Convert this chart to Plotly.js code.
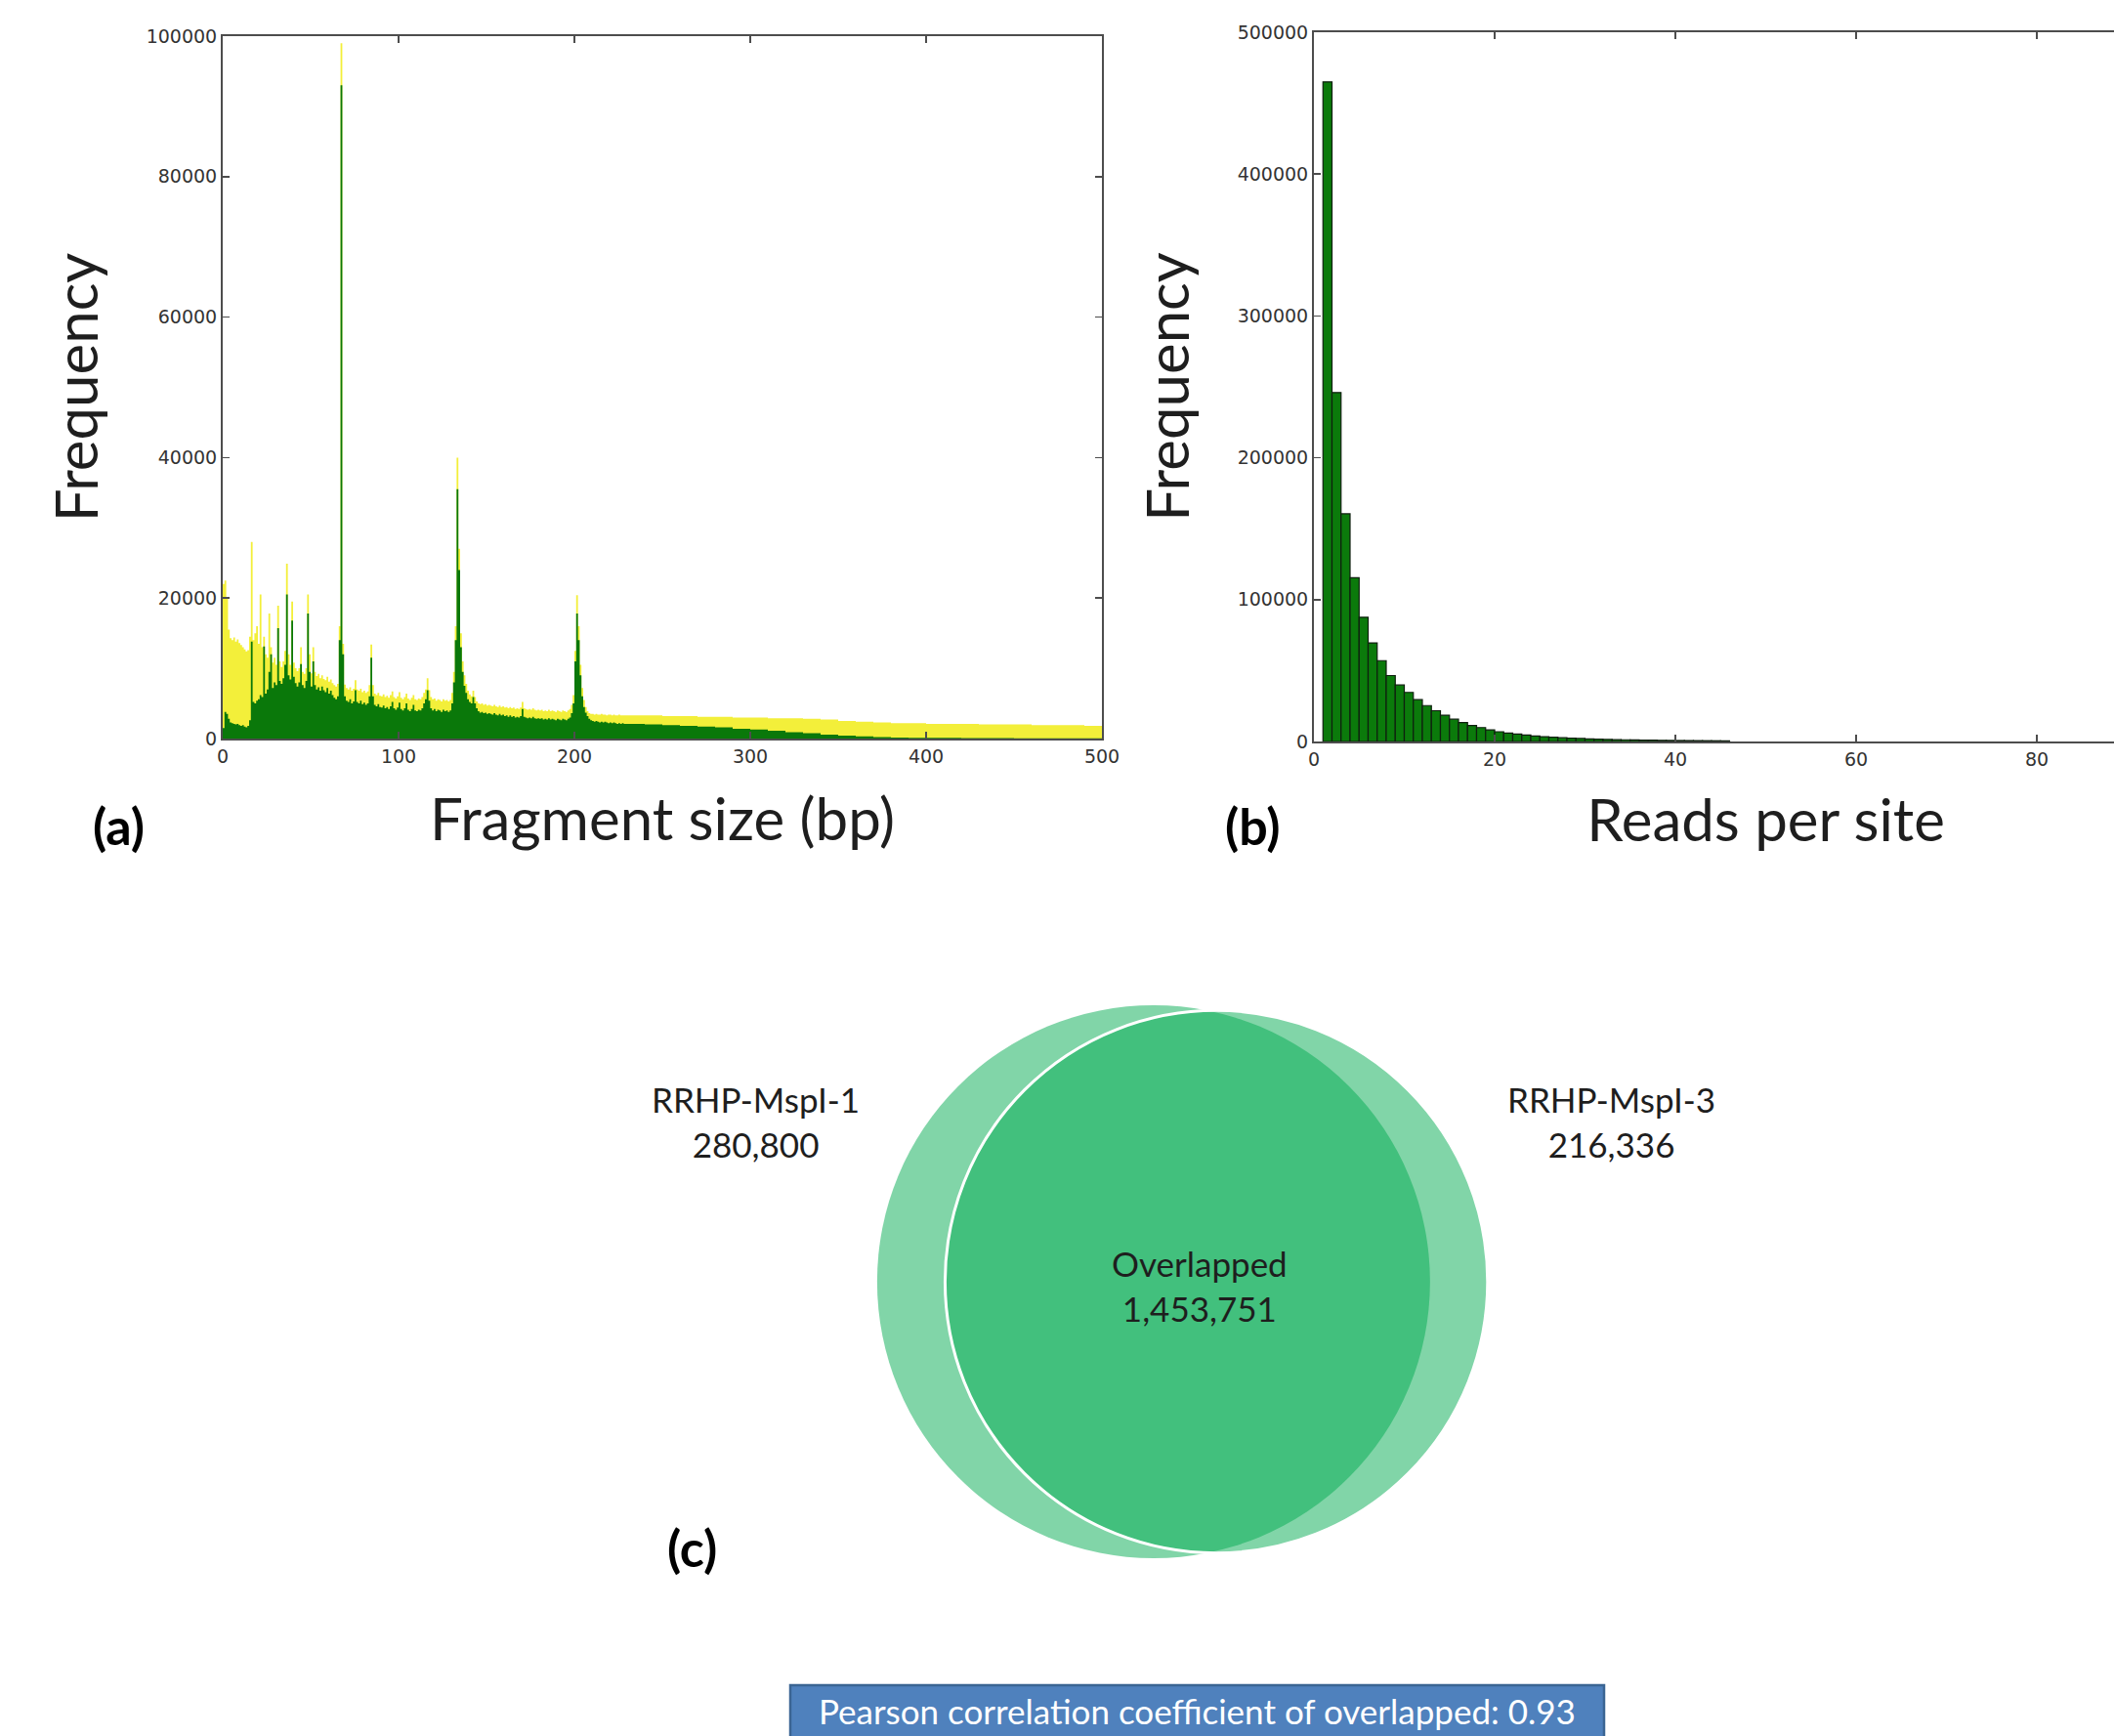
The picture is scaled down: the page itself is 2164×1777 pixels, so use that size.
<!DOCTYPE html>
<html><head><meta charset="utf-8">
<script src="https://cdn.plot.ly/plotly-3.0.1.min.js"></script>
<style>
html,body{margin:0;padding:0;background:#fff;overflow:hidden}
#wrap{width:2164px;height:1777px;overflow:hidden;position:relative}
#chart{width:2290px;height:1777px}
</style>
</head><body>
<div id="wrap"><div id="chart"></div></div>
<script>
// ---------- Panel (a): fragment size histogram (bin start in bp) ----------
const fragmentSize = [
0,1,2,3,4,5,6,7,8,9,10,11,12,13,14,15,16,17,18,19,
20,21,22,23,24,25,26,27,28,29,30,31,32,33,34,35,36,37,38,39,
40,41,42,43,44,45,46,47,48,49,50,51,52,53,54,55,56,57,58,59,
60,61,62,63,64,65,66,67,68,69,70,71,72,73,74,75,76,77,78,79,
80,81,82,83,84,85,86,87,88,89,90,91,92,93,94,95,96,97,98,99,
100,101,102,103,104,105,106,107,108,109,110,111,112,113,114,115,116,117,118,119,
120,121,122,123,124,125,126,127,128,129,130,131,132,133,134,135,136,137,138,139,
140,141,142,143,144,145,146,147,148,149,150,151,152,153,154,155,156,157,158,159,
160,161,162,163,164,165,166,167,168,169,170,171,172,173,174,175,176,177,178,179,
180,181,182,183,184,185,186,187,188,189,190,191,192,193,194,195,196,197,198,199,
200,201,202,203,204,205,206,207,208,209,210,211,212,213,214,215,216,217,218,219,
220,221,222,223,224,225,226,227,228,229,
230,240,250,260,270,280,290,300,310,320,330,340,350,360,370,380,390,400,
410,420,430,440,450,460,470,480,490,500];

// yellow (back) series
const fragYellow = [
22000,22500,20000,15500,14300,14000,14400,13800,14100,13600,
13300,13000,12700,12400,12600,14500,28000,14000,15000,16000,
13500,20500,13000,14500,12000,11500,17800,13000,10800,11500,
10500,18900,11000,10200,11000,12500,24900,12000,10500,19500,
10800,10000,9600,10000,13000,9500,9200,10000,20500,12000,
9300,13000,9500,8900,9200,8600,9000,8500,8300,8800,
8100,8400,7900,7600,7400,7800,16000,99000,13500,7700,
7200,7000,7300,6800,7100,8300,7000,6800,7100,6600,
6800,6500,6700,7600,13400,7600,6400,6200,6500,6100,
6000,6300,5900,6100,5800,6200,6700,5900,5700,6000,
6600,5800,5600,5900,6400,5700,5500,5800,6200,5600,
5500,5700,5600,5900,6500,7000,8600,6900,5900,5600,
5700,5400,5600,5500,5300,5600,5400,5500,5300,5500,
6500,9500,16000,40000,27000,15000,11000,9000,7800,6800,
6300,6000,6800,5900,5300,5000,4900,5000,4800,4900,
4700,4800,4700,4600,4800,4600,4500,4700,4500,4600,
4400,4500,4300,4500,4300,4400,4200,4300,4200,4400,
5200,4300,4200,4100,4200,4100,4300,4100,4000,4100,
4000,4100,3900,4000,3900,4100,3900,4000,3900,3800,
4000,3900,3800,4000,3900,3800,4000,4200,4800,6200,
12500,20400,16000,10500,7200,5500,4500,3900,3600,3500,
3500,3400,3500,3400,3400,3500,3400,3400,3300,3400,
3400,3300,3400,3300,3300,3400,3300,3300,3300,3300,
3300,3300,3200,3200,3100,3100,3000,3000,2900,2900,2800,2700,2500,2400,
2300,2200,2200,2100,2100,2100,2000,2000,2000,1900,1900,1900,1800,1800];

// green (front) series
const fragGreen = [
1500,3800,3500,2800,2300,2200,2100,2000,2100,1900,
1800,1900,1700,1600,1800,2600,13800,5200,5000,5400,
5600,6200,5900,13100,6400,7000,9500,12000,7200,8000,
7600,15700,8200,7800,8600,10500,20500,9000,8400,16800,
8800,7900,7400,8000,10600,7600,7200,8200,17800,9500,
7400,11000,7600,7000,7300,6800,7400,6900,6600,7200,
6400,6800,6200,5800,5600,6000,14000,93000,12000,6000,
5400,5200,5600,5000,5300,6900,5200,5000,5400,4900,
5100,4800,5000,6000,11500,6000,4800,4600,4900,4500,
4400,4700,4300,4500,4200,4600,5200,4300,4100,4400,
5100,4200,4000,4300,5000,4100,3900,4200,4800,4000,
3900,4100,4000,4300,5000,5600,6900,5400,4300,4000,
4200,3900,4100,4000,3800,4100,3900,4000,3800,4000,
5000,8000,14000,35500,24000,13000,9500,7500,6500,5600,
5200,5000,5900,5000,4300,3900,3700,3800,3600,3700,
3500,3600,3500,3400,3600,3400,3300,3500,3300,3400,
3200,3300,3100,3300,3100,3200,3000,3100,3000,3200,
4200,3100,3000,2900,3000,2900,3100,2900,2800,2900,
2800,2900,2700,2800,2700,2900,2700,2800,2700,2600,
2800,2700,2600,2800,2700,2600,2800,3000,3600,5000,
11000,17800,14000,9000,6000,4500,3700,3200,2800,2600,
2500,2400,2500,2400,2300,2400,2300,2400,2300,2200,
2300,2200,2300,2200,2100,2200,2100,2200,2100,2100,
2100,2000,1900,1800,1700,1600,1400,1300,1100,900,750,550,400,300,
200,150,120,100,90,80,70,60,50,40,40,30,30,30];

const fragXTicks = [0,100,200,300,400,500];
const fragYTicks = [0,20000,40000,60000,80000,100000];

// ---------- Panel (b): reads per site histogram (bin start) ----------
const readsPerSite = [1,2,3,4,5,6,7,8,9,10,11,12,13,14,15,16,17,18,19,20,
21,22,23,24,25,26,27,28,29,30,31,32,33,34,35,36,37,38,39,40,41,42,43,44,45];
const readsFrequency = [
465000,246000,160500,115500,87600,69500,57000,46500,39800,34600,
29500,25300,21700,18500,15700,13300,11300,9800,8200,6900,
6000,5200,4500,3900,3400,3000,2600,2300,2100,1800,
1600,1450,1300,1200,1100,1000,900,800,750,700,
650,600,550,500,450];
const readsXTicks = [0,20,40,60,80];
const readsYTicks = [0,100000,200000,300000,400000,500000];

// ---------- Panel (c): Venn diagram ----------
const vennSetNames = ['RRHP-MspI-1','RRHP-MspI-3'];
const vennUniqueCounts = [280800, 216336];
const vennOverlapLabel = 'Overlapped';
const vennOverlapCount = 1453751;
const pearsonLabel = 'Pearson correlation coefficient of overlapped: ';
const pearsonR = 0.93;

const panelLabels = ['(a)','(b)','(c)'];
const axisTitles = {aX:'Fragment size (bp)', aY:'Frequency', bX:'Reads per site', bY:'Frequency'};

// ---------- layout helpers ----------
const W = 2290, H = 1777;
const pxX = v => v / W;
const pxY = v => 1 - v / H;

const titleFont = {family:'Lato, "Open Sans", sans-serif', size:60, color:'#1e1e1e'};
const tickFont = {family:'"DejaVu Sans", sans-serif', size:19, color:'#333333'};
const axisBase = {
  showline:true, linecolor:'#4d4d4d', linewidth:2, mirror:'ticks',
  ticks:'inside', ticklen:7, tickwidth:1.5, tickcolor:'#4d4d4d',
  showgrid:false, zeroline:false, tickfont:tickFont, tickformat:'d',
  tickmode:'array', fixedrange:true
};

// Venn geometry from the set sizes (areas proportional to counts)
const totalA = vennUniqueCounts[0] + vennOverlapCount;
const totalB = vennUniqueCounts[1] + vennOverlapCount;
const rA = 283;                       // drawing scale: radius of set A in px
const areaPerCount = Math.PI * rA * rA / totalA;
const rB = Math.sqrt(totalB * areaPerCount / Math.PI);
const targetOverlap = vennOverlapCount * areaPerCount;
function lensArea(d, r1, r2) {
  if (d >= r1 + r2) return 0;
  if (d <= Math.abs(r1 - r2)) return Math.PI * Math.min(r1, r2) ** 2;
  const a1 = r1 * r1 * Math.acos((d * d + r1 * r1 - r2 * r2) / (2 * d * r1));
  const a2 = r2 * r2 * Math.acos((d * d + r2 * r2 - r1 * r1) / (2 * d * r2));
  const a3 = 0.5 * Math.sqrt((-d + r1 + r2) * (d + r1 - r2) * (d - r1 + r2) * (d + r1 + r2));
  return a1 + a2 - a3;
}
let lo = Math.abs(rA - rB) + 1e-6, hi = rA + rB;
for (let i = 0; i < 80; i++) {
  const mid = (lo + hi) / 2;
  if (lensArea(mid, rA, rB) > targetOverlap) lo = mid; else hi = mid;
}
const dist = (lo + hi) / 2;
const vennMidX = 1213, vennMidY = 1312;
const cA = [vennMidX - dist / 2, vennMidY];
const cB = [vennMidX + dist / 2, vennMidY];
const fmt = n => n.toLocaleString('en-US');

const traces = [
  {type:'scatter', mode:'lines', x:fragmentSize, y:fragYellow, line:{shape:'hv', width:0, color:'#f3ef3a'},
   fill:'tozeroy', fillcolor:'#f3ef3a', xaxis:'x', yaxis:'y', hoverinfo:'x+y', name:'yellow'},
  {type:'scatter', mode:'lines', x:fragmentSize, y:fragGreen, line:{shape:'hv', width:0, color:'#0a780a'},
   fill:'tozeroy', fillcolor:'#0a780a', xaxis:'x', yaxis:'y', hoverinfo:'x+y', name:'green'},
  {type:'bar', x:readsPerSite, y:readsFrequency, offset:0, width:1, xaxis:'x2', yaxis:'y2',
   marker:{color:'#0b7a0b', line:{color:'#0f1f0f', width:1.2}}, name:'reads'},
  {type:'scatter', x:[], y:[], xaxis:'x3', yaxis:'y3', hoverinfo:'skip', showlegend:false}
];

const labelFont = {family:'Lato, sans-serif', size:52, weight:700, color:'#000'};
const vennFont = {family:'Lato, sans-serif', size:35, color:'#1e1e1e'};

const layout = {
  width:W, height:H, margin:{l:0, r:0, t:0, b:0}, paper_bgcolor:'#fff', plot_bgcolor:'#fff',
  showlegend:false, bargap:0,
  xaxis: Object.assign({}, axisBase, {domain:[pxX(228), pxX(1128)], range:[0,500], anchor:'y',
    tickvals:fragXTicks, title:{text:axisTitles.aX, font:titleFont, standoff:34}}),
  yaxis: Object.assign({}, axisBase, {domain:[pxY(756), pxY(37)], range:[0,100000], anchor:'x',
    tickvals:fragYTicks, title:{text:axisTitles.aY, font:titleFont, standoff:30}}),
  xaxis2: Object.assign({}, axisBase, {domain:[pxX(1345), pxX(2270)], range:[0,100], anchor:'y2',
    tickvals:readsXTicks, title:{text:axisTitles.bX, font:titleFont, standoff:32}}),
  yaxis2: Object.assign({}, axisBase, {domain:[pxY(759), pxY(33)], range:[0,500000], anchor:'x2',
    tickvals:readsYTicks, title:{text:axisTitles.bY, font:titleFont, standoff:30}}),
  xaxis3: {domain:[pxX(640), pxX(1760)], range:[640,1760], anchor:'y3', visible:false, fixedrange:true},
  yaxis3: {domain:[pxY(1620), pxY(1000)], range:[1620,1000], anchor:'x3', visible:false, fixedrange:true},
  shapes: [
    {type:'circle', xref:'x3', yref:'y3', x0:cA[0]-rA, x1:cA[0]+rA, y0:cA[1]-rA, y1:cA[1]+rA,
     fillcolor:'rgba(3,172,82,0.5)', line:{width:0}},
    {type:'circle', xref:'x3', yref:'y3', x0:cB[0]-rB, x1:cB[0]+rB, y0:cB[1]-rB, y1:cB[1]+rB,
     fillcolor:'rgba(3,172,82,0.5)', line:{color:'#ffffff', width:3}},
    {type:'rect', xref:'paper', yref:'paper', x0:pxX(809), x1:pxX(1642), y0:pxY(1800), y1:pxY(1725),
     fillcolor:'#4f81bd', line:{color:'#3b6593', width:2.5}}
  ],
  annotations: [
    {text:panelLabels[0], xref:'paper', yref:'paper', x:pxX(122), y:pxY(845), xanchor:'center', yanchor:'middle',
     showarrow:false, font:labelFont},
    {text:panelLabels[1], xref:'paper', yref:'paper', x:pxX(1282), y:pxY(845), xanchor:'center', yanchor:'middle',
     showarrow:false, font:labelFont},
    {text:panelLabels[2], xref:'paper', yref:'paper', x:pxX(708), y:pxY(1584), xanchor:'center', yanchor:'middle',
     showarrow:false, font:labelFont},
    {text:vennSetNames[0] + '<br>' + fmt(vennUniqueCounts[0]), xref:'x3', yref:'y3', x:773, y:1148,
     xanchor:'center', yanchor:'middle', showarrow:false, font:vennFont},
    {text:vennSetNames[1] + '<br>' + fmt(vennUniqueCounts[1]), xref:'x3', yref:'y3', x:1649, y:1148,
     xanchor:'center', yanchor:'middle', showarrow:false, font:vennFont},
    {text:vennOverlapLabel + '<br>' + fmt(vennOverlapCount), xref:'x3', yref:'y3', x:1228, y:1316,
     xanchor:'center', yanchor:'middle', showarrow:false, font:vennFont},
    {text:pearsonLabel + pearsonR.toFixed(2), xref:'paper', yref:'paper', x:pxX(1225), y:pxY(1751),
     xanchor:'center', yanchor:'middle', showarrow:false,
     font:{family:'Lato, sans-serif', size:35, color:'#ffffff'}}
  ]
};

Plotly.newPlot('chart', traces, layout, {displayModeBar:false, responsive:false, staticPlot:true});
</script>
</body></html>
